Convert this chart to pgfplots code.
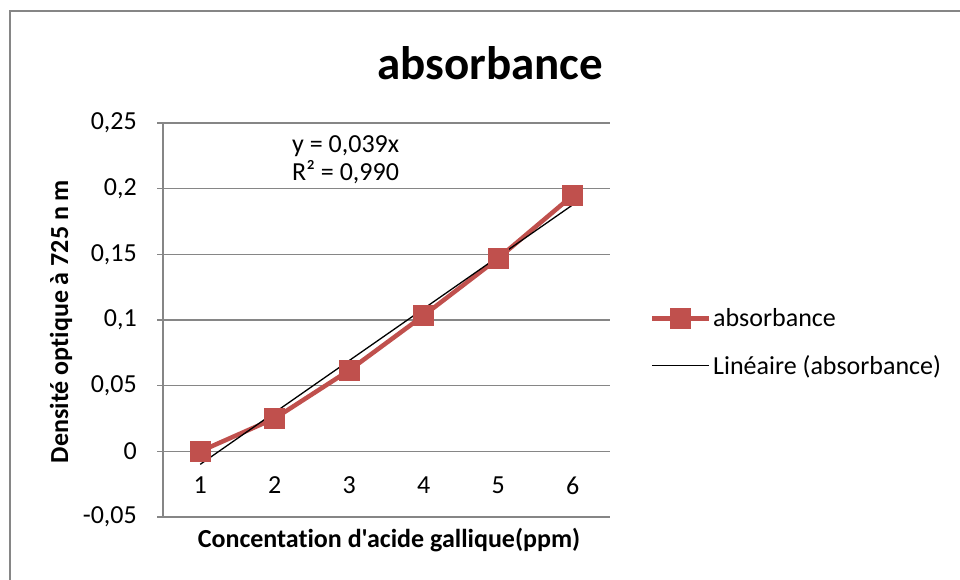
\documentclass[border=0pt]{standalone}
\usepackage{fontspec}
\setmainfont{Carlito}[Ligatures={TeXOff,NoCommon}]
\usepackage{pgfplots}
\pgfplotsset{compat=1.18}
\definecolor{exred}{HTML}{C0504D}
\definecolor{grid}{HTML}{868686}
\newcommand{\fs}{\fontsize{26}{30}\selectfont}
\begin{document}
\begin{tikzpicture}[x=1pt,y=1pt]
\useasboundingbox (0,0) rectangle (960,580);
\draw[grid, line width=1.5pt] (10,569) rectangle (975,-15);
\begin{axis}[
  at={(163pt,63pt)}, anchor=south west,
  scale only axis, width=447pt, height=394pt,
  xmin=0.5, xmax=6.5, ymin=-0.05, ymax=0.25,
  axis x line=middle, axis y line=left,
  axis line style={-, draw=grid, line width=1.5pt},
  xtick={1,2,3,4,5,6}, xticklabels={1,2,3,4,5,6},
  x tick style={draw=none},
  xticklabel style={anchor=center, yshift=-28pt, font=\fs},
  ytick={-0.05,0,0.05,0.1,0.15,0.2,0.25},
  yticklabels={{-0,05},{0},{0,05},{0,1},{0,15},{0,2},{0,25}},
  yticklabel style={anchor=east, inner sep=0pt, xshift=-20pt, font=\fs},
  y tick style={draw=grid, line width=1.5pt},
  tick align=outside, major tick length=6pt,
  ymajorgrids, grid style={draw=grid, line width=1.5pt},
  clip=false,
  legend style={draw=none, fill=none, at={(1.0895,0.444)}, anchor=west,
     font=\fs, row sep=24pt, inner sep=0pt,
     nodes={inner sep=1.5pt}},
  legend cell align=left,
  legend image code/.code={\draw[mark repeat=2, mark phase=2, #1] plot coordinates {(0pt,0pt) (28.5pt,0pt) (57pt,0pt)};},
]
\addplot[exred, line width=4.5pt, mark=square*, mark size=10pt,
  mark options={line width=0pt, fill=exred, draw=exred}]
  coordinates {(1,0) (2,0.0251) (3,0.0617) (4,0.1035) (5,0.147) (6,0.1949)};
\addlegendentry{absorbance}
\addplot[black, line width=1.3pt] coordinates {(1,-0.0099) (6,0.1877)};
\addlegendentry{Linéaire (absorbance)}
\end{axis}
\node[font=\fontsize{47}{50}\selectfont\bfseries] at (490,517) {absorbance};
\node[font=\fs\bfseries] at (389,40) {Concentation d'acide gallique(ppm)};
\node[font=\fs\bfseries, rotate=90] at (61,258.5) {Densité optique à 725 n m};
\node[font=\fontsize{26}{28}\selectfont, align=left, anchor=west, inner sep=0pt] at (292,420) {y = 0,039x\\R² = 0,990};
\end{tikzpicture}
\end{document}
